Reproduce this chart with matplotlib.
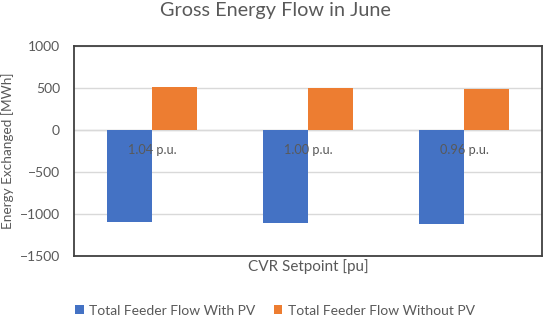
import matplotlib
matplotlib.use('Agg')
import matplotlib.pyplot as plt
import numpy as np

plt.rcParams['font.family'] = ['Lato', 'DejaVu Sans']

setpoints = ['1.04 p.u.', '1.00 p.u.', '0.96 p.u.']
with_pv = [-1095, -1111, -1123]
without_pv = [515, 496, 488]

blue = '#4472C4'
orange = '#ED7D31'
txt = '#595959'

fig = plt.figure(figsize=(5.5, 3.22), dpi=100)
ax = fig.add_axes([74 / 550, 1 - 256 / 322, 468 / 550, 210 / 322])

x = np.arange(len(setpoints))
w = 0.29
ax.bar(x - w / 2, with_pv, w, color=blue, label='Total Feeder Flow With PV', zorder=3)
ax.bar(x + w / 2, without_pv, w, color=orange, label='Total Feeder Flow Without PV', zorder=3)

ax.set_xlim(-0.5, len(setpoints) - 0.5)
ax.set_ylim(-1500, 1000)
ax.set_yticks(np.arange(-1500, 1001, 500))
ax.set_xticks([])
ax.grid(axis='y', color='#D9D9D9', linewidth=1, zorder=0)
ax.axhline(0, color='#D9D9D9', linewidth=1, zorder=1)
ax.tick_params(axis='y', length=0, labelsize=10, labelcolor=txt, pad=10)
for s in ax.spines.values():
    s.set_color('#404040')
    s.set_linewidth(1.3)

for i, lab in enumerate(setpoints):
    ax.annotate(lab, (i, 0), xytext=(0, -19), textcoords='offset points',
                ha='center', va='bottom', fontsize=9.2, color=txt, zorder=4)

ax.set_ylabel('Energy Exchanged [MWh]', fontsize=9.8, color=txt, labelpad=4)
ax.set_xlabel('CVR Setpoint [pu]', fontsize=11, color=txt, labelpad=2)
fig.suptitle('Gross Energy Flow in June', fontsize=14.3, color=txt, x=0.5, y=0.995)

fig.legend(loc='center', bbox_to_anchor=(0.5, 0.035), ncol=2, frameon=False,
           fontsize=10, labelcolor=txt, handlelength=0.6, handleheight=0.6,
           handletextpad=0.4, columnspacing=1.3)

fig.savefig('out.png', dpi=100)
